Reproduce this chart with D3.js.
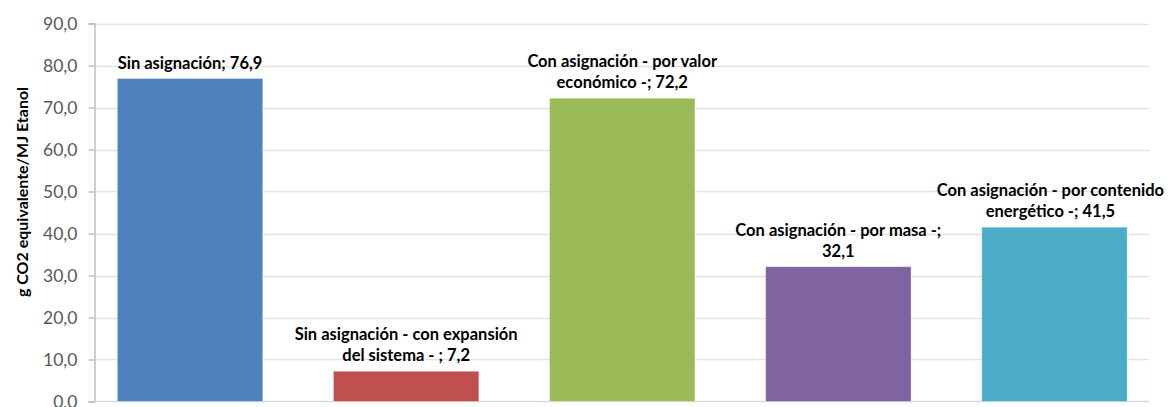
<!DOCTYPE html>
<html><head><meta charset="utf-8">
<script src="https://cdn.jsdelivr.net/npm/d3@7"></script>
<style>body{margin:0;background:#fff}svg{display:block}</style>
</head><body>
<svg id="c" width="1173" height="407"></svg>
<script>
const categories = ["Sin asignación", "Sin asignación - con expansión del sistema -", "Con asignación - por valor económico -", "Con asignación - por masa -", "Con asignación - por contenido energético -"];
const values = [76.9, 7.2, 72.2, 32.1, 41.5];
const labelLines = [["Sin asignación; 76,9"], ["Sin asignación - con expansión", "del sistema - ; 7,2"], ["Con asignación - por valor", "económico -; 72,2"], ["Con asignación - por masa -;", "32,1"], ["Con asignación - por contenido", "energético -; 41,5"]];
const colors = ["#4F81BD", "#C0504D", "#9BBB59", "#8064A2", "#4BACC6"];
const yTicks = [0, 10, 20, 30, 40, 50, 60, 70, 80, 90];
const yTitle = "g CO2 equivalente/MJ Etanol";

const svg = d3.select("#c");
const font = "Lato, 'Open Sans', sans-serif";
const y = d3.scaleLinear().domain([0, 90]).range([401.5, 23.5]);
const x = d3.scaleBand().domain(categories).range([82, 1162.5]).paddingInner(0.327).paddingOuter(0.1635);
const plotL = 94.5, plotR = 1149;

// grid
svg.append("g").selectAll("line").data(yTicks.filter(d => d > 0)).join("line")
  .attr("x1", plotL).attr("x2", plotR)
  .attr("y1", d => Math.round(y(d)) + 0.5).attr("y2", d => Math.round(y(d)) + 0.5)
  .attr("stroke", "#e3e3e3").attr("stroke-width", 1.5);

// y axis
const yAxis = d3.axisLeft(y).tickValues(yTicks).tickSize(6).tickPadding(11)
  .tickFormat(d => d3.format(".1f")(d).replace(".", ","));
const ga = svg.append("g").attr("transform", `translate(${plotL},0)`).call(yAxis);
ga.select(".domain").attr("stroke", "#bfbfbf").attr("stroke-width", 1.5);
ga.selectAll(".tick line").attr("stroke", "#bfbfbf").attr("stroke-width", 1.5);
ga.selectAll(".tick text").attr("fill", "#595959").style("font-family", font).style("font-size", "17.5px");

// baseline
svg.append("line").attr("x1", plotL).attr("x2", plotR).attr("y1", y(0)).attr("y2", y(0))
  .attr("stroke", "#d9d9d9").attr("stroke-width", 1.5);

// bars
svg.append("g").selectAll("rect").data(values).join("rect")
  .attr("x", (d, i) => x(categories[i])).attr("width", x.bandwidth())
  .attr("y", d => y(d)).attr("height", d => y(0) - y(d))
  .attr("fill", (d, i) => colors[i])
  .attr("stroke", "rgba(255,255,255,0.35)").attr("stroke-width", 1);

// labels
const lab = svg.append("g").style("font-family", font).style("font-size", "16.5px").style("font-weight", "bold").attr("fill", "#000");
const maxRight = 1164;
values.forEach((v, i) => {
  const lines = labelLines[i];
  const cx = x(categories[i]) + x.bandwidth() / 2;
  const base = y(v) - 10;
  const g = lab.append("g");
  lines.forEach((t, j) => {
    g.append("text").attr("x", cx).attr("y", base - (lines.length - 1 - j) * 21)
      .attr("text-anchor", "middle").text(t);
  });
  const bb = g.node().getBBox();
  const over = bb.x + bb.width - maxRight;
  if (over > 0) g.attr("transform", `translate(${-over},0)`);
});

// y title
svg.append("text").attr("transform", "translate(28,192) rotate(-90)")
  .attr("text-anchor", "middle").style("font-family", font).style("font-size", "16px").style("font-weight", "bold")
  .text(yTitle);
</script>
</body></html>
